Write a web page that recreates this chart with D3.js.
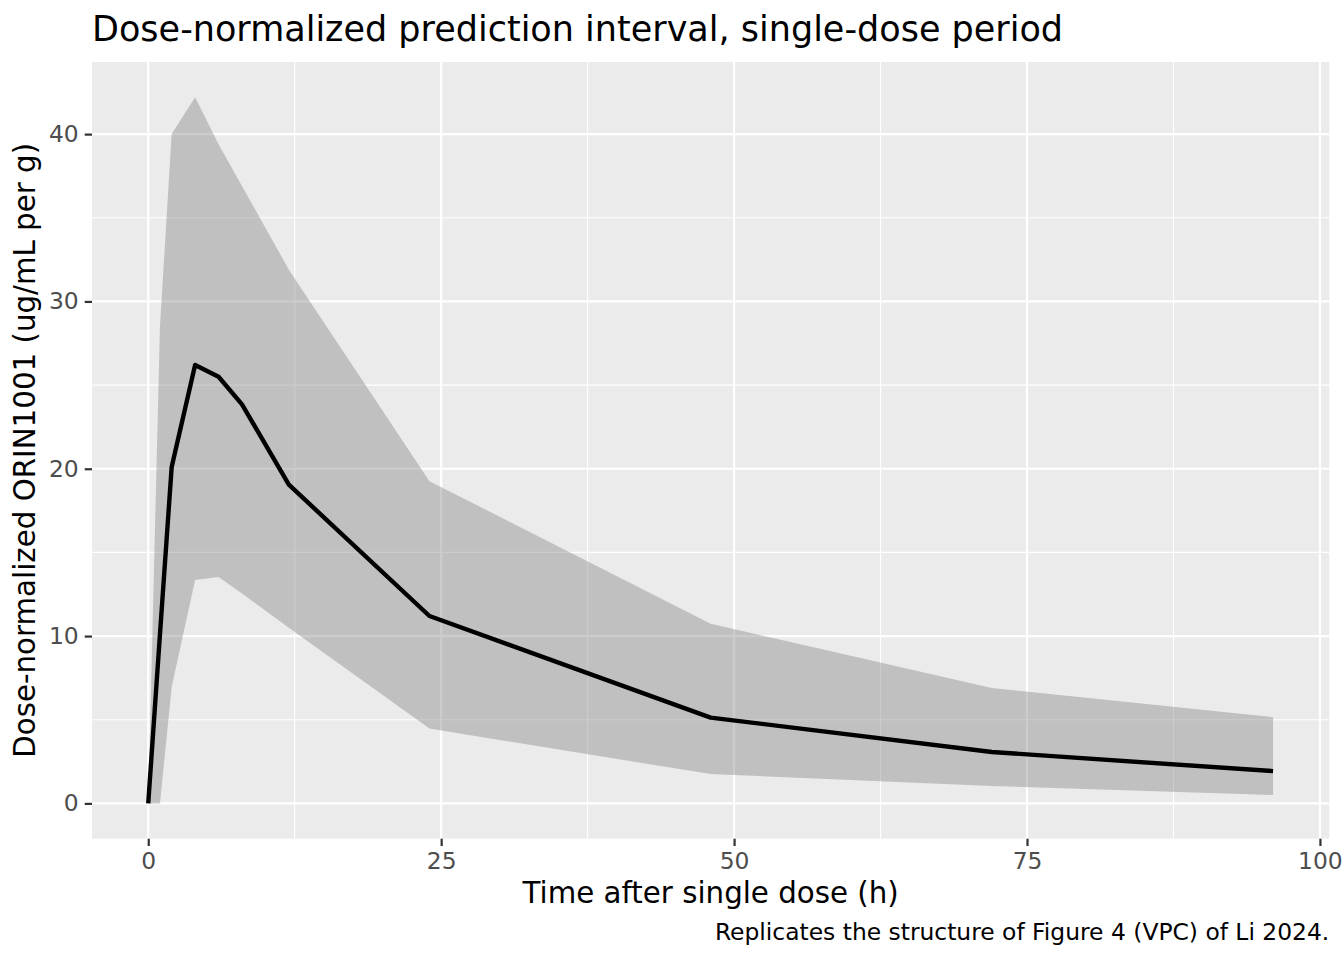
<!DOCTYPE html>
<html>
<head>
<meta charset="utf-8">
<script src="https://cdn.jsdelivr.net/npm/d3@7"></script>
<style>
  body { margin: 0; background: #fff; }
  text { font-family: "DejaVu Sans", sans-serif; }
</style>
</head>
<body>
<div id="chart"></div>
<script>
// time points (h) and prediction interval summaries
const times  = [0, 1, 2, 4, 6, 8, 12, 24, 48, 72, 96];
const median = [0, 10.1, 20.1, 26.2, 25.5, 23.85, 19.05, 11.2, 5.13, 3.07, 1.93];
const lower  = [0, 0, 6.96, 13.35, 13.53, 12.55, 10.5, 4.47, 1.75, 1.04, 0.5];
const upper  = [0, 28.5, 40.0, 42.2, 39.4, 36.9, 31.9, 19.26, 10.74, 6.9, 5.15];

const xTicks = [0, 25, 50, 75, 100];
const yTicks = [0, 10, 20, 30, 40];
const xMinor = [12.5, 37.5, 62.5, 87.5];
const yMinor = [5, 15, 25, 35];

const titleText = "Dose-normalized prediction interval, single-dose period";
const xLabel = "Time after single dose (h)";
const yLabel = "Dose-normalized ORIN1001 (ug/mL per g)";
const caption = "Replicates the structure of Figure 4 (VPC) of Li 2024.";

var width = 1344;
var height = 960;
var margin = {top: 62, right: 14.7, bottom: 121.3, left: 92};

var rows = times.map(function(t, i) {
  return {t: t, med: median[i], lo: lower[i], hi: upper[i]};
});

// ggplot style 5% expansion
function expand(ext) {
  var pad = (ext[1] - ext[0]) * 0.05;
  return [ext[0] - pad, ext[1] + pad];
}

var x = d3.scaleLinear()
  .domain(expand(d3.extent(times)))
  .range([margin.left, width - margin.right]);

var y = d3.scaleLinear()
  .domain(expand([d3.min(lower), d3.max(upper)]))
  .range([height - margin.bottom, margin.top]);

var svg = d3.select("#chart").append("svg")
  .attr("width", width)
  .attr("height", height);

// panel background
svg.append("rect")
  .attr("x", margin.left)
  .attr("y", margin.top)
  .attr("width", width - margin.left - margin.right)
  .attr("height", height - margin.top - margin.bottom)
  .attr("fill", "#ebebeb");

var grid = svg.append("g");

grid.selectAll(".xminor").data(xMinor).enter().append("line")
  .attr("x1", d => x(d)).attr("x2", d => x(d))
  .attr("y1", margin.top).attr("y2", height - margin.bottom)
  .attr("stroke", "#fff").attr("stroke-width", 1.1);

grid.selectAll(".yminor").data(yMinor).enter().append("line")
  .attr("y1", d => y(d)).attr("y2", d => y(d))
  .attr("x1", margin.left).attr("x2", width - margin.right)
  .attr("stroke", "#fff").attr("stroke-width", 1.1);

grid.selectAll(".xmajor").data(xTicks).enter().append("line")
  .attr("x1", d => x(d)).attr("x2", d => x(d))
  .attr("y1", margin.top).attr("y2", height - margin.bottom)
  .attr("stroke", "#fff").attr("stroke-width", 2.2);

grid.selectAll(".ymajor").data(yTicks).enter().append("line")
  .attr("y1", d => y(d)).attr("y2", d => y(d))
  .attr("x1", margin.left).attr("x2", width - margin.right)
  .attr("stroke", "#fff").attr("stroke-width", 2.2);

// prediction interval ribbon
var area = d3.area()
  .x(d => x(d.t))
  .y0(d => y(d.lo))
  .y1(d => y(d.hi));

svg.append("path")
  .datum(rows)
  .attr("d", area)
  .attr("fill", "#7f7f7f")
  .attr("fill-opacity", 0.4);

// median line
var line = d3.line()
  .x(d => x(d.t))
  .y(d => y(d.med));

svg.append("path")
  .datum(rows)
  .attr("d", line)
  .attr("fill", "none")
  .attr("stroke", "#000")
  .attr("stroke-width", 4.4)
  .attr("stroke-linejoin", "round");

// axes
var xAxis = svg.append("g")
  .attr("transform", "translate(0," + (height - margin.bottom) + ")")
  .call(d3.axisBottom(x).tickValues(xTicks).tickSize(7.3).tickPadding(6));

var yAxis = svg.append("g")
  .attr("transform", "translate(" + margin.left + ",0)")
  .call(d3.axisLeft(y).tickValues(yTicks).tickSize(7.3).tickPadding(6));

[xAxis, yAxis].forEach(function(g) {
  g.select(".domain").remove();
  g.selectAll(".tick line").attr("stroke", "#333").attr("stroke-width", 2.2);
  g.selectAll(".tick text")
    .attr("fill", "#4d4d4d")
    .style("font-size", "23.4px");
});

// titles
svg.append("text")
  .attr("x", 92)
  .attr("y", 40.5)
  .attr("fill", "#000")
  .style("font-size", "35px")
  .text(titleText);

svg.append("text")
  .attr("x", (margin.left + width - margin.right) / 2)
  .attr("y", 903.3)
  .attr("text-anchor", "middle")
  .attr("fill", "#000")
  .style("font-size", "29.3px")
  .text(xLabel);

svg.append("text")
  .attr("transform", "translate(35," + ((margin.top + height - margin.bottom) / 2) + ") rotate(-90)")
  .attr("text-anchor", "middle")
  .attr("fill", "#000")
  .style("font-size", "29.3px")
  .text(yLabel);

svg.append("text")
  .attr("x", width - 14.7)
  .attr("y", 940)
  .attr("text-anchor", "end")
  .attr("fill", "#000")
  .style("font-size", "23.4px")
  .text(caption);
</script>
</body>
</html>
